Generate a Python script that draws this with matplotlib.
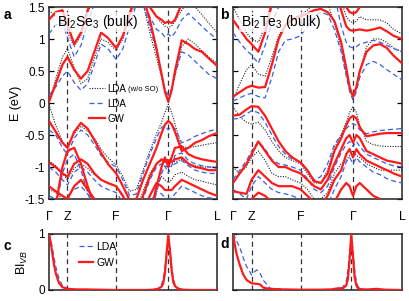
import matplotlib
matplotlib.use('Agg')
import matplotlib.pyplot as plt
from matplotlib.lines import Line2D

plt.rcParams['font.family'] = ['Liberation Sans', 'DejaVu Sans']
plt.rcParams['mathtext.fontset'] = 'custom'
plt.rcParams['mathtext.rm'] = 'Liberation Sans'
plt.rcParams['mathtext.it'] = 'Liberation Sans:italic'

# k path (fraction of Γ-Z-F-Γ-L), high-symmetry points
k_path = [0, 0.04, 0.08, 0.11, 0.15, 0.19, 0.23, 0.27, 0.31, 0.35, 0.40, 0.44, 0.48, 0.52,
          0.56, 0.60, 0.64, 0.67, 0.69, 0.71, 0.73, 0.75, 0.79, 0.83, 0.87, 0.91, 0.95, 1.0]
k_ticks = [0, 0.11, 0.40, 0.71, 1.0]
k_labels = ['Γ', 'Z', 'F', 'Γ', 'L']
e_ticks = [-1.5, -1, -0.5, 0, 0.5, 1, 1.5]
e_labels = ['-1.5', '-1', '-0.5', '0', '0.5', '1', '1.5']

# ---- Bi2Se3 bands (eV) on k_path ----
se_gw = [
    [0.02, 0.3, 0.6, 0.72, 0.52, 0.38, 0.5, 0.8, 1.1, 1.02, 0.86, 1.05, 1.4, 1.7,
     1.65, 1.3, 0.85, 0.45, 0.18, 0.02, 0.2, 0.5, 0.98, 0.92, 0.84, 0.8, 0.7, 0.58],
    [1.3, 1.42, 1.45, 1.22, 0.92, 1.1, 1.45, 1.7, 1.8, 1.8, 1.8, 1.8, 1.8, 1.8,
     1.8, 1.5, 1.35, 1.3, 1.25, 1.27, 1.25, 1.3, 1.55, 1.7, 1.8, 1.8, 1.8, 1.8],
    [-0.28, -0.45, -0.62, -0.7, -0.45, -0.31, -0.4, -0.58, -0.78, -0.95, -1.1, -1.3, -1.52, -1.5,
     -1.2, -0.95, -0.7, -0.47, -0.34, -0.28, -0.33, -0.45, -0.75, -0.7, -0.62, -0.58, -0.52, -0.47],
    [-0.93, -1.0, -1.1, -1.15, -0.95, -0.88, -0.95, -1.1, -1.2, -1.25, -1.3, -1.45, -1.7, -1.75,
     -1.45, -1.15, -0.95, -0.88, -0.92, -0.9, -0.92, -0.88, -0.85, -0.95, -1.0, -1.02, -1.05, -1.05],
    [-1.3, -1.38, -1.45, -1.5, -1.3, -1.2, -1.35, -1.5, -1.6, -1.8, -1.8, -1.8, -1.8, -1.8,
     -1.7, -1.45, -1.25, -1.3, -1.36, -1.36, -1.36, -1.3, -1.2, -1.25, -1.3, -1.35, -1.4, -1.45],
    [-1.8, -1.6, -1.0, -0.75, -0.7, -0.95, -1.3, -1.6, -1.8, -1.8, -1.8, -1.8, -1.8, -1.8,
     -1.8, -1.8, -1.3, -1.0, -0.85, -1.0, -0.85, -0.7, -0.68, -0.8, -0.85, -0.88, -0.9, -0.92],
]
se_lda = [
    [0.12, 0.25, 0.42, 0.5, 0.32, 0.2, 0.3, 0.6, 0.92, 0.85, 0.68, 0.85, 1.2, 1.55,
     1.55, 1.2, 0.8, 0.45, 0.22, 0.12, 0.22, 0.45, 0.8, 0.75, 0.65, 0.55, 0.45, 0.38],
    [1.08, 1.22, 1.25, 1.02, 0.72, 0.9, 1.25, 1.55, 1.7, 1.7, 1.7, 1.7, 1.7, 1.7,
     1.6, 1.35, 1.15, 1.1, 1.03, 1.08, 1.03, 1.1, 1.3, 1.4, 1.3, 1.2, 1.1, 1.0],
    [-0.42, -0.5, -0.7, -0.8, -0.55, -0.42, -0.5, -0.65, -0.82, -0.92, -1.0, -1.2, -1.45, -1.42,
     -1.1, -0.8, -0.55, -0.38, -0.36, -0.42, -0.36, -0.4, -0.62, -0.58, -0.52, -0.48, -0.44, -0.41],
    [-1.0, -1.08, -1.2, -1.28, -1.08, -1.0, -1.08, -1.2, -1.3, -1.35, -1.4, -1.55, -1.8, -1.8,
     -1.5, -1.2, -1.0, -0.95, -0.98, -1.0, -0.98, -0.95, -0.9, -0.98, -1.05, -1.08, -1.1, -1.1],
    [-1.45, -1.5, -1.55, -1.45, -1.35, -1.3, -1.42, -1.55, -1.8, -1.8, -1.8, -1.8, -1.8, -1.8,
     -1.8, -1.55, -1.38, -1.42, -1.48, -1.5, -1.48, -1.42, -1.3, -1.35, -1.4, -1.45, -1.48, -1.5],
    [-1.8, -1.65, -1.1, -0.88, -0.8, -1.05, -1.4, -1.7, -1.8, -1.8, -1.8, -1.8, -1.8, -1.8,
     -1.8, -1.8, -1.4, -1.1, -0.98, -1.1, -0.98, -0.82, -0.78, -0.9, -0.95, -0.98, -1.0, -1.02],
]
se_noso = [
    [0.0, 0.38, 0.72, 0.85, 0.55, 0.3, 0.38, 0.7, 1.0, 0.95, 0.82, 1.0, 1.35, 1.6,
     1.55, 1.1, 0.7, 0.4, 0.2, 0.02, 0.2, 0.42, 0.88, 1.0, 0.92, 0.82, 0.72, 0.62],
    [1.45, 1.35, 1.3, 1.1, 0.88, 1.05, 1.4, 1.7, 1.8, 1.8, 1.8, 1.8, 1.8, 1.8,
     1.7, 1.5, 1.35, 1.25, 1.2, 1.18, 1.2, 1.28, 1.45, 1.6, 1.5, 1.38, 1.25, 1.1],
    [-0.02, -0.35, -0.6, -0.72, -0.48, -0.36, -0.44, -0.55, -0.72, -0.85, -0.97, -1.15, -1.38, -1.35,
     -1.05, -0.75, -0.48, -0.3, -0.15, -0.02, -0.15, -0.33, -0.68, -0.7, -0.68, -0.66, -0.64, -0.62],
    [-0.9, -0.98, -1.1, -1.2, -1.02, -0.95, -1.02, -1.12, -1.2, -1.25, -1.3, -1.48, -1.65, -1.65,
     -1.38, -1.1, -0.95, -0.9, -0.9, -0.88, -0.9, -0.92, -0.88, -0.95, -0.98, -1.0, -1.0, -1.0],
    [-1.35, -1.4, -1.5, -1.48, -1.3, -1.22, -1.35, -1.5, -1.6, -1.8, -1.8, -1.8, -1.8, -1.8,
     -1.8, -1.7, -1.3, -1.15, -1.2, -1.25, -1.2, -1.12, -1.08, -1.15, -1.2, -1.22, -1.25, -1.28],
]

# ---- Bi2Te3 bands (eV) on k_path ----
te_gw = [
    [0.1, 0.17, 0.24, 0.27, 0.24, 0.25, 0.6, 1.0, 1.22, 1.3, 1.35, 1.4, 1.45, 1.47,
     1.42, 1.28, 0.95, 0.55, 0.25, 0.1, 0.25, 0.5, 0.8, 0.9, 0.92, 0.86, 0.74, 0.62],
    [1.3, 1.15, 1.0, 0.92, 0.8, 1.1, 1.55, 1.8, 1.8, 1.8, 1.8, 1.8, 1.8, 1.8,
     1.8, 1.8, 1.45, 1.2, 1.14, 1.13, 1.14, 1.15, 1.13, 1.15, 1.18, 1.12, 1.05, 1.0],
    [1.8, 1.8, 1.8, 1.8, 1.8, 1.8, 1.8, 1.8, 1.8, 1.8, 1.8, 1.8, 1.8, 1.8,
     1.8, 1.8, 1.7, 1.5, 1.42, 1.4, 1.42, 1.5, 1.7, 1.8, 1.8, 1.8, 1.8, 1.8],
    [-0.2, -0.18, -0.1, -0.05, -0.06, -0.2, -0.4, -0.6, -0.75, -0.85, -0.93, -1.05, -1.22, -1.25,
     -1.1, -0.75, -0.55, -0.35, -0.24, -0.2, -0.24, -0.38, -0.52, -0.5, -0.48, -0.47, -0.47, -0.47],
    [-1.25, -1.1, -0.95, -0.8, -0.6, -0.75, -0.9, -1.0, -1.0, -1.05, -1.1, -1.2, -1.3, -1.35,
     -1.2, -0.95, -0.72, -0.55, -0.5, -0.62, -0.5, -0.55, -0.75, -0.8, -0.85, -0.9, -0.92, -0.95],
    [-1.38, -1.4, -1.42, -1.2, -1.05, -1.15, -1.25, -1.3, -1.3, -1.3, -1.35, -1.45, -1.55, -1.6,
     -1.45, -1.2, -1.05, -0.8, -0.72, -0.85, -0.72, -0.8, -0.9, -0.95, -1.0, -1.05, -1.1, -1.15],
    [-1.8, -1.7, -1.55, -1.5, -1.4, -1.45, -1.55, -1.6, -1.62, -1.62, -1.65, -1.8, -1.8, -1.8,
     -1.8, -1.55, -1.35, -1.25, -1.3, -1.45, -1.3, -1.25, -1.35, -1.45, -1.5, -1.55, -1.6, -1.65],
]
te_lda = [
    [0.03, 0.08, 0.13, 0.15, 0.1, 0.08, 0.4, 0.8, 0.98, 1.0, 1.05, 1.2, 1.35, 1.42,
     1.38, 1.15, 0.8, 0.42, 0.18, 0.05, 0.18, 0.4, 0.6, 0.65, 0.6, 0.52, 0.45, 0.36],
    [1.1, 0.95, 0.82, 0.75, 0.62, 0.9, 1.25, 1.5, 1.7, 1.7, 1.7, 1.7, 1.7, 1.7,
     1.7, 1.7, 1.2, 0.95, 0.88, 0.86, 0.88, 0.92, 0.95, 0.98, 0.95, 0.9, 0.85, 0.8],
    [-0.25, -0.24, -0.17, -0.12, -0.15, -0.3, -0.5, -0.68, -0.8, -0.88, -0.92, -1.05, -1.2, -1.15,
     -0.95, -0.65, -0.5, -0.4, -0.35, -0.32, -0.35, -0.42, -0.48, -0.45, -0.43, -0.42, -0.41, -0.4],
    [-1.2, -1.05, -0.9, -0.75, -0.6, -0.72, -0.88, -0.95, -0.97, -1.0, -1.05, -1.18, -1.35, -1.4,
     -1.3, -1.0, -0.78, -0.65, -0.6, -0.68, -0.6, -0.68, -0.8, -0.85, -0.9, -0.95, -0.98, -1.0],
    [-1.35, -1.42, -1.5, -1.3, -1.15, -1.25, -1.35, -1.4, -1.42, -1.45, -1.5, -1.6, -1.7, -1.7,
     -1.6, -1.35, -1.15, -0.92, -0.85, -0.95, -0.85, -0.92, -1.0, -1.08, -1.12, -1.18, -1.22, -1.25],
]
te_noso = [
    [0.05, 0.3, 0.52, 0.6, 0.45, 0.42, 0.72, 1.05, 1.22, 1.32, 1.38, 1.45, 1.55, 1.6,
     1.55, 1.25, 0.85, 0.45, 0.22, 0.05, 0.22, 0.48, 0.88, 1.0, 1.0, 0.95, 0.86, 0.8],
    [1.5, 1.3, 1.1, 1.0, 0.95, 1.2, 1.6, 1.8, 1.8, 1.8, 1.8, 1.8, 1.8, 1.8,
     1.8, 1.8, 1.6, 1.35, 1.28, 1.25, 1.28, 1.35, 1.3, 1.3, 1.3, 1.25, 1.15, 1.08],
    [-0.05, -0.22, -0.3, -0.33, -0.3, -0.42, -0.6, -0.75, -0.85, -0.9, -0.95, -1.1, -1.25, -1.25,
     -1.05, -0.7, -0.5, -0.3, -0.15, -0.05, -0.15, -0.35, -0.6, -0.65, -0.67, -0.68, -0.68, -0.68],
    [-1.0, -1.1, -1.0, -0.85, -0.75, -0.9, -1.1, -1.15, -1.15, -1.2, -1.25, -1.35, -1.5, -1.5,
     -1.4, -1.1, -0.95, -0.9, -0.82, -0.75, -0.82, -0.85, -0.95, -1.0, -1.05, -1.05, -1.05, -1.05],
]

# ---- Bi character of the top valence band ----
k_bi = [0, 0.01, 0.02, 0.03, 0.04, 0.06, 0.08, 0.11, 0.14, 0.16, 0.18, 0.22, 0.3, 0.4, 0.5, 0.58,
        0.62, 0.65, 0.67, 0.68, 0.69, 0.70, 0.71, 0.72, 0.73, 0.74, 0.75, 0.77, 0.8, 0.85, 0.9, 1.0]
se_bi_gw = [1.0, 0.85, 0.65, 0.45, 0.3, 0.12, 0.05, 0.02, 0.015, 0.01, 0.01, 0.01, 0.005, 0, 0, 0,
            0.005, 0.02, 0.06, 0.12, 0.3, 0.65, 0.98, 0.7, 0.35, 0.14, 0.07, 0.02, 0.005, 0, 0, 0]
se_bi_lda = [1.0, 0.9, 0.75, 0.58, 0.42, 0.2, 0.08, 0.03, 0.01, 0.01, 0.01, 0.005, 0.005, 0, 0, 0,
             0.01, 0.03, 0.1, 0.2, 0.4, 0.7, 0.92, 0.75, 0.42, 0.2, 0.1, 0.03, 0.01, 0, 0, 0]
te_bi_gw = [1.0, 0.82, 0.66, 0.55, 0.45, 0.28, 0.18, 0.12, 0.11, 0.1, 0.04, 0.02, 0.01, 0.005, 0.005, 0.01,
            0.03, 0.03, 0.08, 0.2, 0.55, 1.0, 0.6, 0.22, 0.08, 0.03, 0.02, 0.01, 0.01, 0.02, 0.005, 0]
te_bi_lda = [1.0, 0.95, 0.88, 0.82, 0.76, 0.58, 0.42, 0.27, 0.36, 0.3, 0.17, 0.03, 0.01, 0.005, 0.005, 0.01,
             0.02, 0.05, 0.15, 0.35, 0.65, 0.92, 0.7, 0.35, 0.15, 0.06, 0.03, 0.01, 0.01, 0.01, 0.005, 0]

RED = '#ff1a1a'
BLUE = '#3a5fe6'
DOT = '#222222'
W, H = 409, 301

fig = plt.figure(figsize=(W / 100, H / 100), dpi=100)


def box(x0, y0, x1, y1):
    return [x0 / W, 1 - y1 / H, (x1 - x0) / W, (y1 - y0) / H]


ax_a = fig.add_axes(box(49, 7, 217, 199))
ax_b = fig.add_axes(box(233, 7, 402, 199))
ax_c = fig.add_axes(box(49, 234, 217, 290))
ax_d = fig.add_axes(box(233, 234, 402, 290))


def style(ax):
    for s in ax.spines.values():
        s.set_linewidth(1.1)
        s.set_color('#222222')
    ax.set_xlim(0, 1)


def draw_bands(ax, noso, lda, gw, title):
    for e in noso:
        ax.plot(k_path, e, color=DOT, lw=0.8, ls=(0, (1, 1.3)), zorder=2)
    for e in lda:
        ax.plot(k_path, e, color=BLUE, lw=0.9, ls=(0, (4, 2.5)), zorder=3)
    for e in gw:
        ax.plot(k_path, e, color=RED, lw=1.6, zorder=4)
    for k in k_ticks[1:4]:
        ax.axvline(k, color='#333333', lw=0.9, ls=(0, (4, 3)), zorder=1.5)
    style(ax)
    ax.set_ylim(-1.5, 1.5)
    ax.set_yticks(e_ticks)
    ax.set_xticks(k_ticks)
    ax.set_xticklabels(k_labels, fontsize=9)
    ax.tick_params(axis='x', length=0, pad=9)
    ax.tick_params(axis='y', direction='in', length=3.5, width=0.9, right=True, labelsize=8.5, pad=3)
    ax.text(0.045, 0.922, title, transform=ax.transAxes, fontsize=10, va='center', ha='left', zorder=6,
            bbox=dict(facecolor='white', edgecolor='none', alpha=0.75, pad=1.0))


draw_bands(ax_a, se_noso, se_lda, se_gw, 'Bi$_2$Se$_3$ (bulk)')
ax_a.set_yticklabels(e_labels)
ax_a.set_ylabel('E (eV)', fontsize=9, labelpad=2)

draw_bands(ax_b, te_noso, te_lda, te_gw, 'Bi$_2$Te$_3$ (bulk)')
ax_b.set_yticklabels([])

handles = [Line2D([], [], color=DOT, lw=0.8, ls=(0, (1, 1.3))),
           Line2D([], [], color=BLUE, lw=0.9, ls=(0, (4, 2.5))),
           Line2D([], [], color=RED, lw=1.6)]
leg = ax_a.legend(handles, ['LDA', 'LDA', 'GW'], loc='upper left', bbox_to_anchor=(0.21, 0.625),
                  frameon=False, fontsize=7, handlelength=1.6, handletextpad=0.25,
                  labelspacing=0.5, borderpad=0)

# BI_VB panels
for ax, gw, lda, g in ((ax_c, se_bi_gw, se_bi_lda, 0.71), (ax_d, te_bi_gw, te_bi_lda, 0.70)):
    ax.plot(k_bi, lda, color=BLUE, lw=0.9, ls=(0, (4, 2.5)), zorder=3)
    ax.plot(k_bi, gw, color=RED, lw=1.6, zorder=4)
    for k in (k_ticks[1], k_ticks[2], g):
        ax.axvline(k, color='#333333', lw=0.9, ls=(0, (4, 3)), zorder=1.5)
    style(ax)
    ax.set_ylim(0, 1)
    ax.set_xticks([])
    ax.set_yticks([0, 1])
    ax.tick_params(axis='y', direction='in', length=3, width=0.9, labelsize=8.5, pad=3)

ax_c.set_yticklabels(['0', '1'])
ax_c.set_ylabel('BI$_{VB}$', fontsize=9, labelpad=6)
ax_d.set_yticklabels([])
ax_c.legend([handles[1], handles[2]], ['LDA', 'GW'], loc='upper left', bbox_to_anchor=(0.15, 0.95),
            frameon=False, fontsize=7.5, handlelength=1.3, handletextpad=0.3,
            labelspacing=0.55, borderpad=0)

for lbl, x, y in (('a', 4, 15), ('b', 220, 15), ('c', 4, 246), ('d', 220, 244)):
    fig.text(x / W, 1 - y / H, lbl, fontsize=10, fontweight='bold', va='center', ha='left')

# smaller "(w/o SO)" right after the first legend entry
fig.canvas.draw()
bb = leg.get_texts()[0].get_window_extent()
fig.text((bb.x1 + 2) / W, (bb.y0 + 0.5) / H, '(w/o SO)', fontsize=5.5, va='bottom', ha='left')

fig.savefig('out.png', dpi=100)
